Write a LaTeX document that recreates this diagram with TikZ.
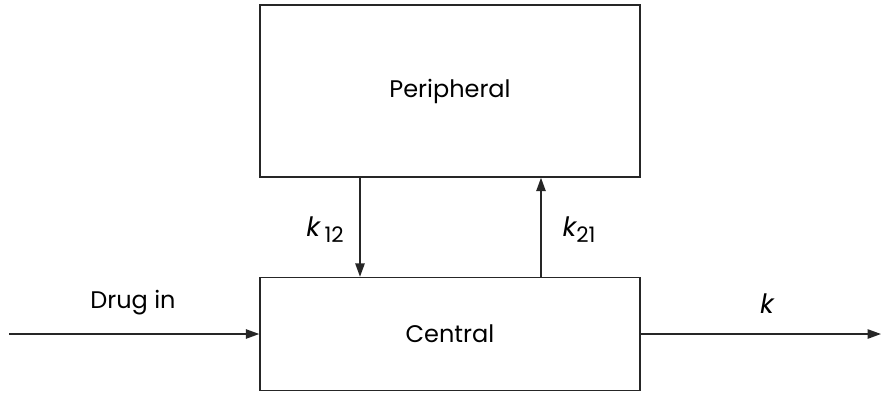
\documentclass[tikz,border=0pt]{standalone}
\usepackage{fontspec}
\setmainfont{Poppins}
\usetikzlibrary{arrows.meta}
\begin{document}
\begin{tikzpicture}[x=0.75pt,y=-0.75pt,
  box/.style={draw=black!85,line width=1.1pt,inner sep=0pt},
  flow/.style={draw=black!85,line width=1.1pt,-{Triangle[length=10pt,width=7pt]}},
  lbl/.style={font=\fontsize{18}{20}\selectfont,inner sep=0pt,text=black}]
\useasboundingbox (0,0) rectangle (882,394);
\node[box,minimum width=380*0.75pt,minimum height=172*0.75pt] (per) at (450,91) {};
\node[lbl] at (per.center) {Peripheral};
\node[box,minimum width=380*0.75pt,minimum height=113*0.75pt] (cen) at (450,334) {};
\node[lbl] at (cen.center) {Central};
\coordinate (src) at (9,334);
\coordinate (snk) at (881,334);
\draw[flow] (src) -- (cen.west);
\draw[flow] (cen.east) -- (snk);
\draw[flow] (per.south -| 360,0) -- (cen.north -| 360,0);
\draw[flow] (cen.north -| 541,0) -- (per.south -| 541,0);
\node[lbl] (drug) at (133,303) {Drug in};
\node[lbl,font=\fontsize{20}{22}\selectfont] (kel) at (767,304) {\itshape k};
\node[lbl,font=\fontsize{20}{22}\selectfont] (k12) at (325,230) {{\itshape k}\,\raisebox{-0.4ex}{\fontsize{16}{18}\selectfont 12}};
\node[lbl,font=\fontsize{20}{22}\selectfont] (k21) at (579,230) {{\itshape k}\raisebox{-0.4ex}{\fontsize{16}{18}\selectfont 21}};
\end{tikzpicture}
\end{document}
